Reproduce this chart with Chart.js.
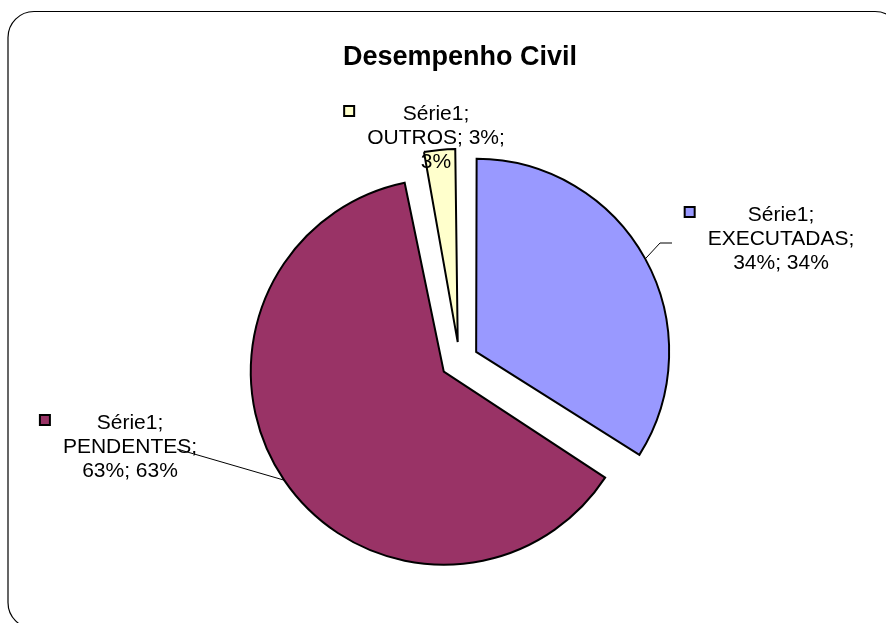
<!DOCTYPE html>
<html><head><meta charset="utf-8">
<script src="https://cdn.jsdelivr.net/npm/chart.js@4.4.1/dist/chart.umd.min.js"></script>
<style>html,body{margin:0;padding:0;background:#fff;}#wrap{width:886px;height:623px;position:relative;}</style>
</head><body><div id="wrap"><canvas id="c"></canvas></div>
<script>
const chartTitle = 'Desempenho Civil';
const seriesName = 'Série1';
const categories = ['EXECUTADAS', 'PENDENTES', 'OUTROS'];
const values = [34, 63, 3];
const percentLabels = ['34%', '63%', '3%'];
const colors = ['#9999FF', '#993366', '#FFFFCC'];

const EXPLODE = 19;
const RADIUS = 193;
const FONT = '21px "Liberation Sans", Arial, sans-serif';
const LINE_H = 23.8;
// label placement (text centre x, first baseline, wrap width, leader points from label side)
const labelLayout = [
  {cx: 781, y: 221, wrap: 155, leader: [[672, 243], [660, 243]]},
  {cx: 130, y: 429, wrap: 140, leader: [[177, 449]]},
  {cx: 436, y: 120, wrap: 140, leader: null}
];

function wrapText(ctx, text, maxW) {
  const words = text.split(' ');
  const lines = [];
  let cur = '';
  words.forEach(w => {
    const t = cur ? cur + ' ' + w : w;
    if (cur && ctx.measureText(t).width > maxW) { lines.push(cur); cur = w; }
    else cur = t;
  });
  if (cur) lines.push(cur);
  return lines;
}

const explodeFix = {
  id: 'explodeFix',
  beforeDatasetsDraw(chart) {
    const meta = chart.getDatasetMeta(0);
    meta.data.forEach(arc => {
      const circ = arc.endAngle - arc.startAngle;
      const fix = 1 - Math.sin(Math.min(Math.PI, circ));
      arc.outerRadius = RADIUS - EXPLODE * fix;
    });
  }
};

const frame = {
  id: 'frame',
  beforeDraw(chart) {
    const ctx = chart.ctx;
    ctx.save();
    ctx.strokeStyle = '#000';
    ctx.lineWidth = 1.2;
    ctx.beginPath();
    ctx.roundRect(8, 11.5, 893, 617, 26);
    ctx.stroke();
    ctx.restore();
  }
};

const labels = {
  id: 'labels',
  afterDraw(chart) {
    const ctx = chart.ctx;
    ctx.save();
    // title
    ctx.fillStyle = '#000';
    ctx.font = 'bold 27px "Liberation Sans", Arial, sans-serif';
    ctx.textAlign = 'center';
    ctx.textBaseline = 'alphabetic';
    ctx.fillText(chartTitle, 460, 65);

    const meta = chart.getDatasetMeta(0);
    ctx.font = FONT;
    meta.data.forEach((arc, i) => {
      const L = labelLayout[i];
      const mid = (arc.startAngle + arc.endAngle) / 2;
      // leader line
      if (L.leader) {
        const ex = arc.x + Math.cos(mid) * (EXPLODE + RADIUS);
        const ey = arc.y + Math.sin(mid) * (EXPLODE + RADIUS);
        ctx.strokeStyle = '#000';
        ctx.lineWidth = 1;
        ctx.beginPath();
        ctx.moveTo(ex, ey);
        for (let k = L.leader.length - 1; k >= 0; k--) ctx.lineTo(L.leader[k][0], L.leader[k][1]);
        ctx.stroke();
      }
      const text = `${seriesName}; ${categories[i]}; ${percentLabels[i]}; ${percentLabels[i]}`;
      const lines = wrapText(ctx, text, L.wrap);
      const maxW = Math.max(...lines.map(l => ctx.measureText(l).width));
      ctx.fillStyle = '#000';
      ctx.textAlign = 'center';
      lines.forEach((ln, k) => ctx.fillText(ln, L.cx, L.y + k * LINE_H));
      // legend key
      const kx = L.cx - maxW / 2 - 23;
      const ky = L.y - 14;
      ctx.fillStyle = colors[i];
      ctx.fillRect(kx, ky, 10, 10);
      ctx.strokeStyle = '#000';
      ctx.lineWidth = 2;
      ctx.strokeRect(kx, ky, 10, 10);
    });
    ctx.restore();
  }
};

new Chart(document.getElementById('c'), {
  type: 'pie',
  data: {
    labels: categories,
    datasets: [{
      label: seriesName,
      data: values,
      backgroundColor: colors,
      borderColor: '#000',
      borderWidth: 2,
      borderJoinStyle: 'miter',
      offset: EXPLODE * 4
    }]
  },
  options: {
    responsive: true,
    maintainAspectRatio: false,
    animation: false,
    radius: RADIUS,
    layout: {padding: {left: 40, right: 7, top: 110, bottom: 11}},
    plugins: {legend: {display: false}, tooltip: {enabled: false}, title: {display: false}}
  },
  plugins: [frame, explodeFix, labels]
});
</script>
</body></html>
